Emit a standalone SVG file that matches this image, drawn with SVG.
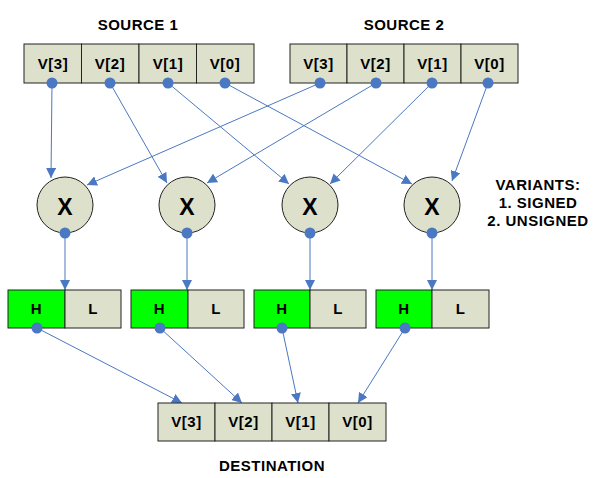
<svg xmlns="http://www.w3.org/2000/svg" width="593" height="478" viewBox="0 0 593 478">
<style>
.cell{fill:#dde0cb;stroke:#222;stroke-width:1}
.h{fill:#00ff00;stroke:#222;stroke-width:1}
.t{font-family:"Liberation Sans",Arial,sans-serif;font-weight:bold;font-size:15px;letter-spacing:0.5px;fill:#000;text-anchor:middle}
.x{font-family:"Liberation Sans",Arial,sans-serif;font-weight:bold;font-size:23px;fill:#000;text-anchor:middle}
.dot{fill:#4a78c2}
.c line{stroke:#4a78c2;stroke-width:1;marker-end:url(#ah)}
</style>
<defs>
<marker id="ah" viewBox="0 0 10 10" refX="10" refY="5" markerWidth="10" markerHeight="10" markerUnits="userSpaceOnUse" orient="auto">
<path d="M0,0 L10,5 L0,10 z" fill="#4a78c2"/>
</marker>
</defs>
<rect width="593" height="478" fill="#fff"/>
<g id="labels">
<text class="t" x="138" y="30">SOURCE 1</text>
<text class="t" x="404" y="30">SOURCE 2</text>
<text class="t" x="272" y="471">DESTINATION</text>
<text class="t" x="538" y="190">VARIANTS:</text>
<text class="t" x="538" y="208">1. SIGNED</text>
<text class="t" x="538" y="226">2. UNSIGNED</text>
</g>
<g class="c" id="connectors">
<line x1="52" y1="83" x2="51" y2="178"/>
<line x1="320" y1="83" x2="87" y2="185"/>
<line x1="110" y1="83" x2="167" y2="183"/>
<line x1="376" y1="83" x2="207" y2="183"/>
<line x1="168" y1="83" x2="289" y2="184"/>
<line x1="432" y1="83" x2="330" y2="184"/>
<line x1="225" y1="83" x2="412" y2="184"/>
<line x1="488" y1="83" x2="452" y2="181"/>
<line x1="65" y1="233" x2="65" y2="290"/>
<line x1="187" y1="233" x2="187" y2="290"/>
<line x1="310" y1="233" x2="310" y2="290"/>
<line x1="432" y1="233" x2="432" y2="290"/>
<line x1="37" y1="328" x2="182" y2="403"/>
<line x1="160" y1="328" x2="242" y2="403"/>
<line x1="282" y1="328" x2="298" y2="403"/>
<line x1="405" y1="328" x2="358" y2="403"/>
</g>
<g id="source1">
<rect class="cell" x="24" y="44" width="57.5" height="39"/>
<rect class="cell" x="81.5" y="44" width="57.5" height="39"/>
<rect class="cell" x="139" y="44" width="57.5" height="39"/>
<rect class="cell" x="196.5" y="44" width="57.5" height="39"/>
<text class="t" x="53" y="69">V[3]</text>
<text class="t" x="110" y="69">V[2]</text>
<text class="t" x="168" y="69">V[1]</text>
<text class="t" x="225" y="69">V[0]</text>
<circle class="dot" cx="52" cy="83" r="5.5"/>
<circle class="dot" cx="110" cy="83" r="5.5"/>
<circle class="dot" cx="168" cy="83" r="5.5"/>
<circle class="dot" cx="225" cy="83" r="5.5"/>
</g>
<g id="source2">
<rect class="cell" x="290" y="44" width="57" height="39"/>
<rect class="cell" x="347" y="44" width="57" height="39"/>
<rect class="cell" x="404" y="44" width="57" height="39"/>
<rect class="cell" x="461" y="44" width="57" height="39"/>
<text class="t" x="318.5" y="69">V[3]</text>
<text class="t" x="375.5" y="69">V[2]</text>
<text class="t" x="432.5" y="69">V[1]</text>
<text class="t" x="489.5" y="69">V[0]</text>
<circle class="dot" cx="320" cy="83" r="5.5"/>
<circle class="dot" cx="376" cy="83" r="5.5"/>
<circle class="dot" cx="432" cy="83" r="5.5"/>
<circle class="dot" cx="488" cy="83" r="5.5"/>
</g>
<g id="mul1"><circle class="cell" cx="65" cy="205" r="28"/><text class="x" x="65" y="215">X</text><circle class="dot" cx="65" cy="233" r="5.5"/></g>
<g id="mul2"><circle class="cell" cx="187" cy="205" r="28"/><text class="x" x="187" y="215">X</text><circle class="dot" cx="187" cy="233" r="5.5"/></g>
<g id="mul3"><circle class="cell" cx="310" cy="205" r="28"/><text class="x" x="310" y="215">X</text><circle class="dot" cx="310" cy="233" r="5.5"/></g>
<g id="mul4"><circle class="cell" cx="432" cy="205" r="28"/><text class="x" x="432" y="215">X</text><circle class="dot" cx="432" cy="233" r="5.5"/></g>
<g id="res1"><rect class="h" x="8" y="290" width="57" height="38"/><rect class="cell" x="65" y="290" width="56" height="38"/><text class="t" x="36.5" y="314">H</text><text class="t" x="93" y="314">L</text><circle class="dot" cx="37" cy="328" r="5.5"/></g>
<g id="res2"><rect class="h" x="131" y="290" width="57" height="38"/><rect class="cell" x="188" y="290" width="56" height="38"/><text class="t" x="159.5" y="314">H</text><text class="t" x="216" y="314">L</text><circle class="dot" cx="160" cy="328" r="5.5"/></g>
<g id="res3"><rect class="h" x="254" y="290" width="56" height="38"/><rect class="cell" x="310" y="290" width="56" height="38"/><text class="t" x="282" y="314">H</text><text class="t" x="338" y="314">L</text><circle class="dot" cx="282" cy="328" r="5.5"/></g>
<g id="res4"><rect class="h" x="376" y="290" width="56" height="38"/><rect class="cell" x="432" y="290" width="57" height="38"/><text class="t" x="404" y="314">H</text><text class="t" x="460.5" y="314">L</text><circle class="dot" cx="405" cy="328" r="5.5"/></g>
<g id="destination">
<rect class="cell" x="158" y="403" width="57" height="38"/>
<rect class="cell" x="215" y="403" width="57" height="38"/>
<rect class="cell" x="272" y="403" width="57" height="38"/>
<rect class="cell" x="329" y="403" width="57" height="38"/>
<text class="t" x="186.5" y="427">V[3]</text>
<text class="t" x="243.5" y="427">V[2]</text>
<text class="t" x="300.5" y="427">V[1]</text>
<text class="t" x="357.5" y="427">V[0]</text>
</g>
</svg>
